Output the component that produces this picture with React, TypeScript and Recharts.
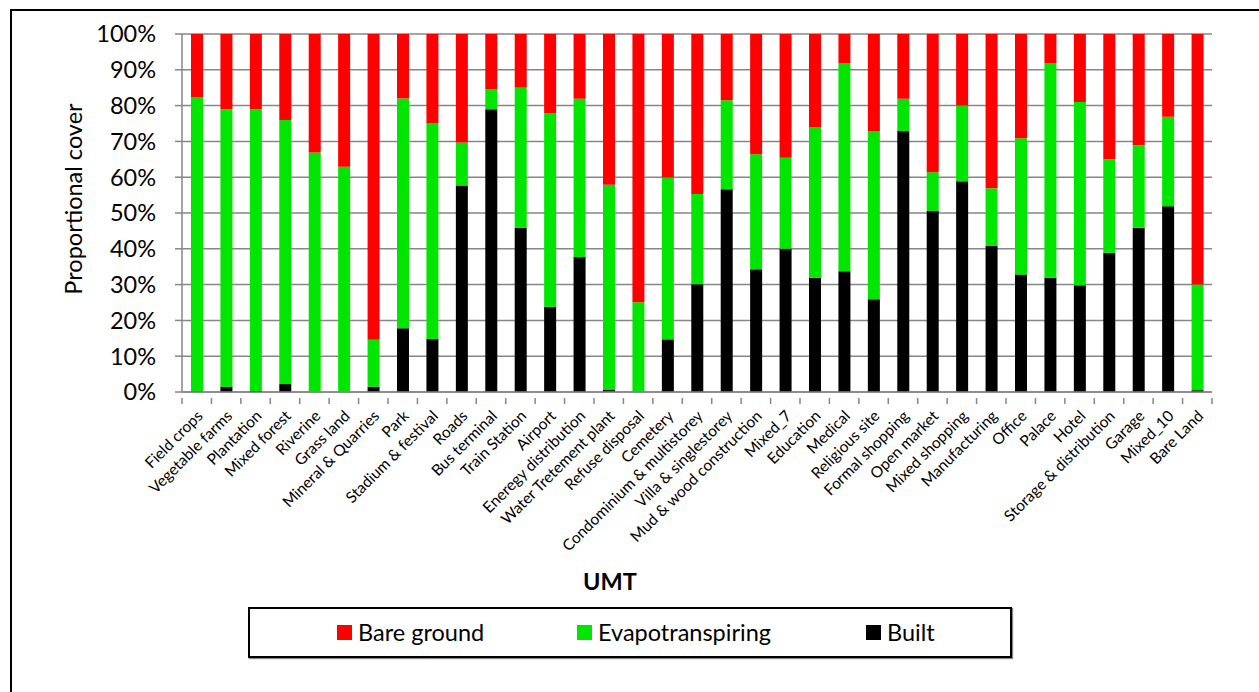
import React from "react";
import { BarChart, Bar, XAxis, YAxis, CartesianGrid } from "recharts";

const categories = [
  "Field crops", "Vegetable farms", "Plantation", "Mixed forest", "Riverine",
  "Grass land", "Mineral & Quarries", "Park", "Stadium & festival", "Roads",
  "Bus terminal", "Train Station", "Airport", "Eneregy distribution",
  "Water Tretement plant", "Refuse disposal", "Cemetery",
  "Condominium & multistorey", "Villa & singlestorey", "Mud & wood construction",
  "Mixed_7", "Education", "Medical", "Religious site", "Formal shopping",
  "Open market", "Mixed shopping", "Manufacturing", "Office", "Palace", "Hotel",
  "Storage & distribution", "Garage", "Mixed_10", "Bare Land",
];

const built = [
  0.2, 1.5, 0.3, 2.2, 0, 0, 1.5, 17.8, 14.8, 57.7, 79.0, 45.9, 23.8, 37.7, 0.7,
  0, 14.7, 30.1, 56.6, 34.3, 40.0, 31.9, 33.7, 25.9, 72.9, 50.6, 58.9, 40.8,
  32.8, 31.9, 29.8, 38.9, 45.9, 51.9, 0.5,
];

const evapotranspiring = [
  82.1, 77.5, 78.7, 73.8, 66.9, 62.9, 13.1, 64.2, 60.2, 12.0, 5.5, 39.1, 54.1,
  44.2, 57.2, 25.1, 45.2, 25.2, 24.9, 32.1, 25.4, 42.1, 58.2, 47.0, 9.0, 10.8,
  21.1, 16.1, 38.1, 60.0, 51.2, 26.1, 23.0, 25.0, 29.5,
];

const bareGround = [
  17.7, 21.0, 21.0, 24.0, 33.1, 37.1, 85.4, 18.0, 25.0, 30.3, 15.5, 15.0, 22.1,
  18.1, 42.1, 74.9, 40.1, 44.7, 18.5, 33.6, 34.6, 26.0, 8.1, 27.1, 18.1, 38.6,
  20.0, 43.1, 29.1, 8.1, 19.0, 35.0, 31.1, 23.1, 70.0,
];

const yTicks = [0, 10, 20, 30, 40, 50, 60, 70, 80, 90, 100];

const data = categories.map((name, i) => ({
  name,
  built: built[i],
  evap: evapotranspiring[i],
  bare: bareGround[i],
}));

const FONT = "Lato, Carlito, Calibri, sans-serif";
const AXIS = "#868686";
const W = 1259;
const H = 692;
const M = { top: 34, right: 47, left: 82, bottom: 120 };
const Y_W = 100;
const X_H = 180;
const BAND = (W - M.left - Y_W - M.right) / categories.length;

const legendItems = [
  { label: "Bare ground", color: "#ff0000", left: 87 },
  { label: "Evapotranspiring", color: "#00e600", left: 327 },
  { label: "Built", color: "#000000", left: 616 },
];

function XTick(props: any) {
  const { x, y, payload, index } = props;
  const top = y - 2;
  return (
    <g>
      <line x1={x - BAND / 2} x2={x - BAND / 2} y1={top} y2={top + 6} stroke={AXIS} strokeWidth={1.5} />
      {index === categories.length - 1 && (
        <line x1={x + BAND / 2} x2={x + BAND / 2} y1={top} y2={top + 6} stroke={AXIS} strokeWidth={1.5} />
      )}
      <g transform={`translate(${x + 7},${y + 17}) rotate(-45)`}>
        <text textAnchor="end" fontSize={15.5} fontFamily={FONT} fill="#000">
          {payload.value}
        </text>
      </g>
    </g>
  );
}

export default function App() {
  return (
    <div style={{ position: "absolute", left: 0, top: 0, width: W, height: H, overflow: "hidden", background: "#fff" }}>
      <div style={{
        position: "absolute", left: 10, top: 9, width: 1400, height: 900,
        borderLeft: "2px solid #000", borderTop: "2px solid #000",
      }} />

      <div style={{ position: "absolute", left: 0, top: 0 }}>
        <BarChart width={W} height={H} data={data} margin={M} barSize={12}>
          <CartesianGrid vertical={false} stroke={AXIS} strokeWidth={1.5} />
          <XAxis
            dataKey="name"
            interval={0}
            height={X_H}
            tickLine={false}
            axisLine={{ stroke: AXIS, strokeWidth: 1.5 }}
            tick={<XTick />}
          />
          <YAxis
            width={Y_W}
            domain={[0, 100]}
            ticks={yTicks}
            tickFormatter={(v: number) => `${v}%`}
            tickSize={7}
            tickMargin={19}
            axisLine={{ stroke: AXIS, strokeWidth: 1.5 }}
            tickLine={{ stroke: AXIS, strokeWidth: 1.5 }}
            tick={{ fontSize: 23.5, fontFamily: FONT, fill: "#000" }}
            label={{
              content: ({ viewBox }: any) => {
                const cx = viewBox.x - 9;
                const cy = viewBox.y + viewBox.height / 2 - 14;
                return (
                  <text
                    x={cx}
                    y={cy}
                    transform={`rotate(-90 ${cx} ${cy})`}
                    textAnchor="middle"
                    dominantBaseline="central"
                    fontSize={23.5}
                    fontFamily={FONT}
                    fill="#000"
                  >
                    Proportional cover
                  </text>
                );
              },
            }}
          />
          <Bar dataKey="built" stackId="a" fill="#000000" isAnimationActive={false} />
          <Bar dataKey="evap" stackId="a" fill="#00e600" isAnimationActive={false} />
          <Bar dataKey="bare" stackId="a" fill="#ff0000" isAnimationActive={false} />
        </BarChart>
      </div>

      <div style={{
        position: "absolute", left: 583, top: 567, fontFamily: FONT, fontWeight: 700,
        fontSize: 23.5, color: "#000", lineHeight: "28px",
      }}>
        UMT
      </div>

      <div style={{
        position: "absolute", left: 248, top: 607, width: 760, height: 47,
        border: "2px solid #000", boxShadow: "1px 1px 1px #888", background: "#fff",
      }}>
        {legendItems.map((l) => (
          <div key={l.label} style={{ position: "absolute", left: l.left, top: 8, display: "flex", alignItems: "center", gap: 6 }}>
            <div style={{ width: 15, height: 15, background: l.color }} />
            <span style={{ fontFamily: FONT, fontSize: 23.5, color: "#000", lineHeight: "30px" }}>{l.label}</span>
          </div>
        ))}
      </div>
    </div>
  );
}
